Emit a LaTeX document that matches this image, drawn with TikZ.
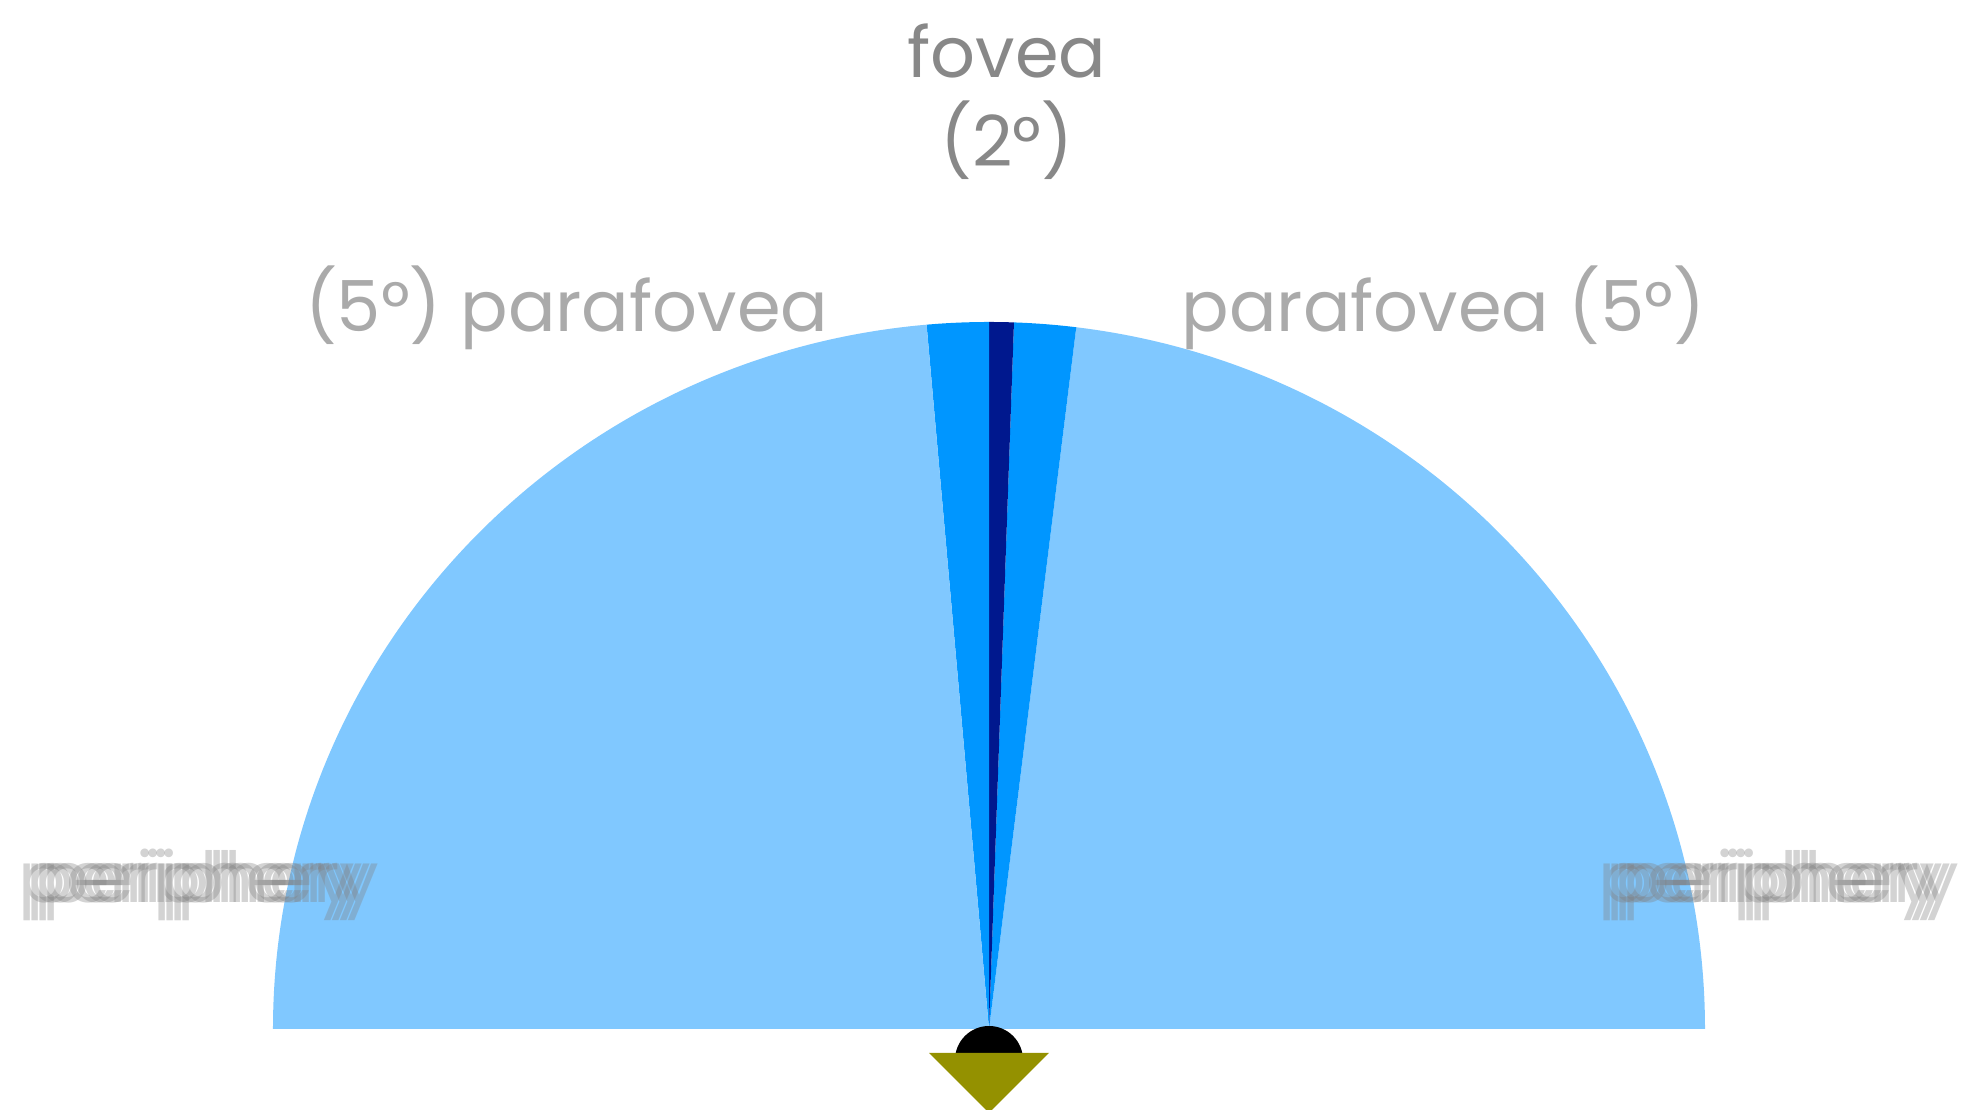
\documentclass[tikz,border=0pt]{standalone}
\usepackage{fontspec}
\setmainfont{Poppins}
\definecolor{periBlue}{RGB}{128,200,255}
\definecolor{paraBlue}{RGB}{0,150,255}
\definecolor{foveaBlue}{RGB}{0,24,142}
\definecolor{eyeOlive}{RGB}{148,145,0}
\definecolor{foveaGray}{RGB}{136,136,136}
\definecolor{paraGray}{RGB}{170,170,170}
\tikzset{
  lbl/.style={font=\fontsize{20}{24}\selectfont, inner sep=0pt, anchor=base},
  ghost/.style={lbl, text=black!50, opacity=0.35}
}
\begin{document}
\begin{tikzpicture}[x=0.01cm, y=0.01cm]
  \useasboundingbox (-989,-81) rectangle (990,1029);
  % visual field, angles in degrees
  \foreach \a/\b/\c in {0/83/periBlue, 83/88/paraBlue, 88/90/foveaBlue,
      90/95/paraBlue, 95/180/periBlue} {
    \fill[\c] (0,0) -- (\a:716 and 707) arc[start angle=\a, end angle=\b,
      x radius=716, y radius=707] -- cycle;
  }
  % eye
  \fill[black] (0,-31) circle (34);
  \fill[eyeOlive] (-60,-24) -- (60,-24) -- (0,-84) -- cycle;
  % labels
  \node[lbl, text=foveaGray] (fovea) at (18,951) {fovea};
  \node[lbl, text=foveaGray] (foveadeg) at (18,862) {(2°)};
  \node[lbl, text=paraGray, anchor=base east] (paraL) at (-160,697) {(5°) parafovea};
  \node[lbl, text=paraGray, anchor=base west] (paraR) at (192,697) {parafovea (5°)};
  \foreach \d in {-12,-4,4,12} {
    \node[ghost] (periL\d) at (-790+\d,126) {periphery};
    \node[ghost] (periR\d) at (790+\d,126) {periphery};
  }
\end{tikzpicture}
\end{document}
